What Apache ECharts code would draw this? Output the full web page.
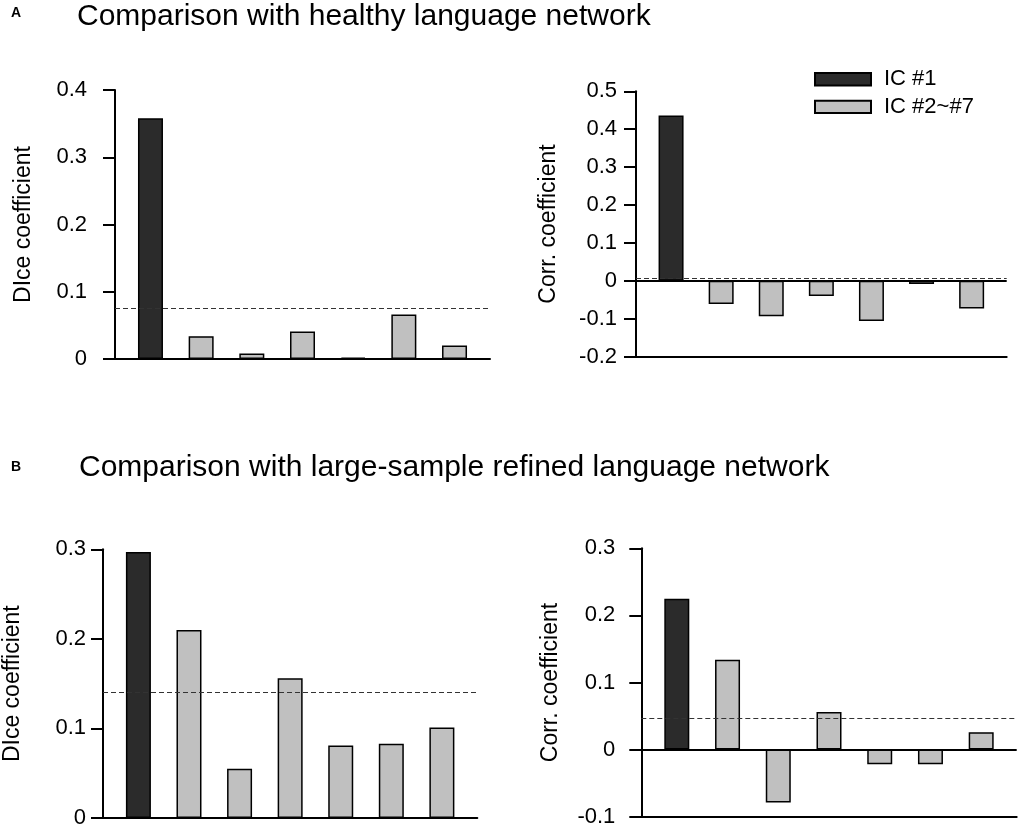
<!DOCTYPE html>
<html lang="en">
<head>
    <meta charset="UTF-8">
    <title>IC comparison</title>
    <script src="https://cdn.jsdelivr.net/npm/echarts@6.0.0/dist/echarts.min.js"></script>
    <style>body { margin: 0; background: #fff; }</style>
</head>
<body>
    <div id="main" style="width: 1020px;height:829px;"></div>
    <script type="text/javascript">
        // component position on the x axis (IC #1 .. IC #7)
        const ics = [1, 2, 3, 4, 5, 6, 7];
        const legendNames = ['IC #1', 'IC #2~#7'];

        // A: comparison with healthy language network
        const diceHealthy = [0.358, 0.034, 0.008, 0.041, 0.002, 0.066, 0.020];
        const corrHealthy = [0.436, -0.061, -0.093, -0.040, -0.106, -0.008, -0.073];
        const diceHealthyThr = 0.075;
        const corrHealthyThr = 0.008;

        // B: comparison with large-sample refined language network
        const diceRefined = [0.297, 0.210, 0.055, 0.156, 0.081, 0.083, 0.101];
        const corrRefined = [0.225, 0.134, -0.079, 0.056, -0.022, -0.022, 0.026];
        const diceRefinedThr = 0.140;
        const corrRefinedThr = 0.046;

        // y tick ranges per panel
        const diceHealthyTicks = [0, 0.4];
        const corrHealthyTicks = [-0.2, 0.5];
        const diceRefinedTicks = [0, 0.3];
        const corrRefinedTicks = [-0.1, 0.3];

        const panels = [
            { grid: { left: 115, top: 90, width: 375, height: 269 }, vals: diceHealthy, thr: diceHealthyThr,
              ticks: diceHealthyTicks, name: 'DIce coefficient', nameGap: 80, margin: 28 },
            { grid: { left: 636, top: 91.3, width: 370.7, height: 265.4 }, vals: corrHealthy, thr: corrHealthyThr,
              ticks: corrHealthyTicks, name: 'Corr. coefficient', nameGap: 76, margin: 19 },
            { grid: { left: 101.7, top: 549.3, width: 375.6, height: 269 }, vals: diceRefined, thr: diceRefinedThr,
              ticks: diceRefinedTicks, name: 'DIce coefficient', nameGap: 79, margin: 17 },
            { grid: { left: 641.3, top: 548.3, width: 375.4, height: 268.4 }, vals: corrRefined, thr: corrRefinedThr,
              ticks: corrRefinedTicks, name: 'Corr. coefficient', nameGap: 79, margin: 26 }
        ];

        const black = '#000';
        const grids = [], xAxes = [], yAxes = [], series = [];

        panels.forEach((p, i) => {
            grids.push(p.grid);
            xAxes.push({
                gridIndex: i, type: 'value', min: 0.3, max: 7.7,
                axisLine: { show: true, onZero: false, lineStyle: { color: black, width: 2 } },
                axisTick: { show: false }, axisLabel: { show: false }, splitLine: { show: false }
            });
            yAxes.push({
                gridIndex: i, type: 'value', min: p.ticks[0], max: p.ticks[1], interval: 0.1,
                axisLine: { show: true, lineStyle: { color: black, width: 2 } },
                axisTick: { show: true, length: 12, lineStyle: { color: black, width: 2 } },
                axisLabel: { fontSize: 22, color: black, margin: p.margin },
                splitLine: { show: false },
                name: p.name, nameLocation: 'middle', nameGap: p.nameGap,
                nameTextStyle: { fontSize: 23, color: black }
            });

            const lines = [{ yAxis: p.thr, lineStyle: { type: [5, 3], color: '#333', width: 1 } }];
            if (p.ticks[0] < 0) {
                lines.push({ yAxis: 0, lineStyle: { type: 'solid', color: black, width: 2 } });
            }

            series.push({
                name: legendNames[0], type: 'bar', xAxisIndex: i, yAxisIndex: i,
                data: [[ics[0], p.vals[0]]],
                barWidth: 25, barGap: '-100%',
                itemStyle: { color: '#2b2b2b', borderColor: black, borderWidth: 1.5 },
                emphasis: { disabled: true }
            });
            series.push({
                name: legendNames[1], type: 'bar', xAxisIndex: i, yAxisIndex: i,
                data: ics.slice(1).map((x, k) => [x, p.vals[k + 1]]),
                barWidth: 25, barGap: '-100%',
                itemStyle: { color: '#c0c0c0', borderColor: black, borderWidth: 1.5 },
                emphasis: { disabled: true },
                markLine: { silent: true, symbol: 'none', precision: 4, label: { show: false }, data: lines }
            });
        });

        let options = {
            animation: false,
            textStyle: { fontFamily: '"Liberation Sans", Arial, sans-serif' },
            title: [
                { text: 'A', left: 11, top: 6, padding: 0, textStyle: { fontSize: 14, fontWeight: 'bold', color: black } },
                { text: 'Comparison with healthy language network', left: 77, top: 2, padding: 0,
                  textStyle: { fontSize: 30, fontWeight: 'normal', color: black } },
                { text: 'B', left: 11, top: 460, padding: 0, textStyle: { fontSize: 14, fontWeight: 'bold', color: black } },
                { text: 'Comparison with large-sample refined language network', left: 79, top: 453, padding: 0,
                  textStyle: { fontSize: 30, fontWeight: 'normal', color: black } }
            ],
            legend: {
                data: legendNames, orient: 'vertical', left: 814, top: 68.3, padding: 0,
                itemWidth: 56, itemHeight: 12.4, itemGap: 5.6, icon: 'rect',
                selectedMode: false,
                textStyle: { fontSize: 22, color: black, lineHeight: 12, padding: [0, 0, 0, 8] }
            },
            grid: grids,
            xAxis: xAxes,
            yAxis: yAxes,
            series: series
        };

        let myChart = echarts.init(document.getElementById('main'));
        myChart.setOption(options);
    </script>
</body>
</html>
